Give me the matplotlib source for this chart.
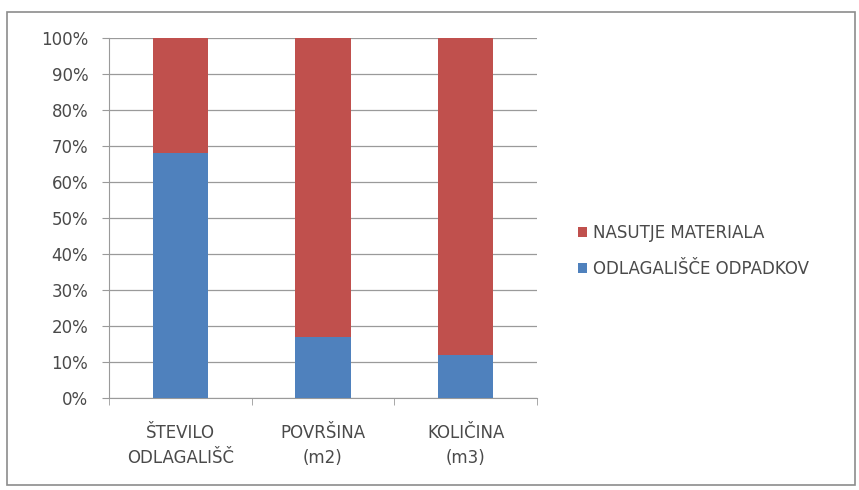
import numpy as np
import matplotlib.pyplot as plt
from matplotlib.patches import Rectangle

plt.rcParams['font.family'] = ['DejaVu Sans']

categories = ['ŠTEVILO\nODLAGALIŠČ', 'POVRŠINA\n(m2)', 'KOLIČINA\n(m3)']
odlagalisce = [68, 17, 12]
nasutje = [32, 83, 88]
series_names = ['ODLAGALIŠČE ODPADKOV', 'NASUTJE MATERIALA']
yticks = [0, 10, 20, 30, 40, 50, 60, 70, 80, 90, 100]

txt = '#4a4a4a'
line = '#9a9a9a'
fig = plt.figure(figsize=(8.59, 4.9), dpi=100)
fig.patches.append(Rectangle((0.008, 0.01), 0.987, 0.965, transform=fig.transFigure,
                             fill=False, edgecolor='#8c8c8c', linewidth=1.2))
ax = fig.add_axes([0.127, 0.188, 0.498, 0.734])

x = np.arange(len(categories))
w = 0.39
b1 = ax.bar(x, odlagalisce, w, color='#4f81bd', label=series_names[0], zorder=3)
b2 = ax.bar(x, nasutje, w, bottom=odlagalisce, color='#c0504d', label=series_names[1], zorder=3)

ax.set_xlim(-0.5, len(categories) - 0.5)
ax.set_ylim(0, 100)
ax.set_yticks(yticks)
ax.set_yticklabels([f'{v}%' for v in yticks])
ax.yaxis.grid(True, color=line, linewidth=0.9, zorder=0)

ax.set_xticks(x)
ax.set_xticklabels(categories, linespacing=1.5)
ax.set_xticks(np.arange(len(categories) + 1) - 0.5, minor=True)
ax.tick_params(axis='x', which='major', length=0, pad=19)
ax.tick_params(axis='x', which='minor', length=5, color=line)
ax.tick_params(axis='y', length=5, color=line, pad=10)
ax.tick_params(labelsize=12, labelcolor=txt)

for s in ['top', 'right']:
    ax.spines[s].set_visible(False)
for s in ['left', 'bottom']:
    ax.spines[s].set_color(line)

handles = [b2, b1]
labels = [series_names[1], series_names[0]]
fig.legend(handles, labels, loc='center left', bbox_to_anchor=(0.655, 0.488),
           frameon=False, fontsize=12, handlelength=0.55, handleheight=0.55,
           handletextpad=0.35, labelspacing=1.05, labelcolor=txt)

fig.savefig('out.png', dpi=100)
